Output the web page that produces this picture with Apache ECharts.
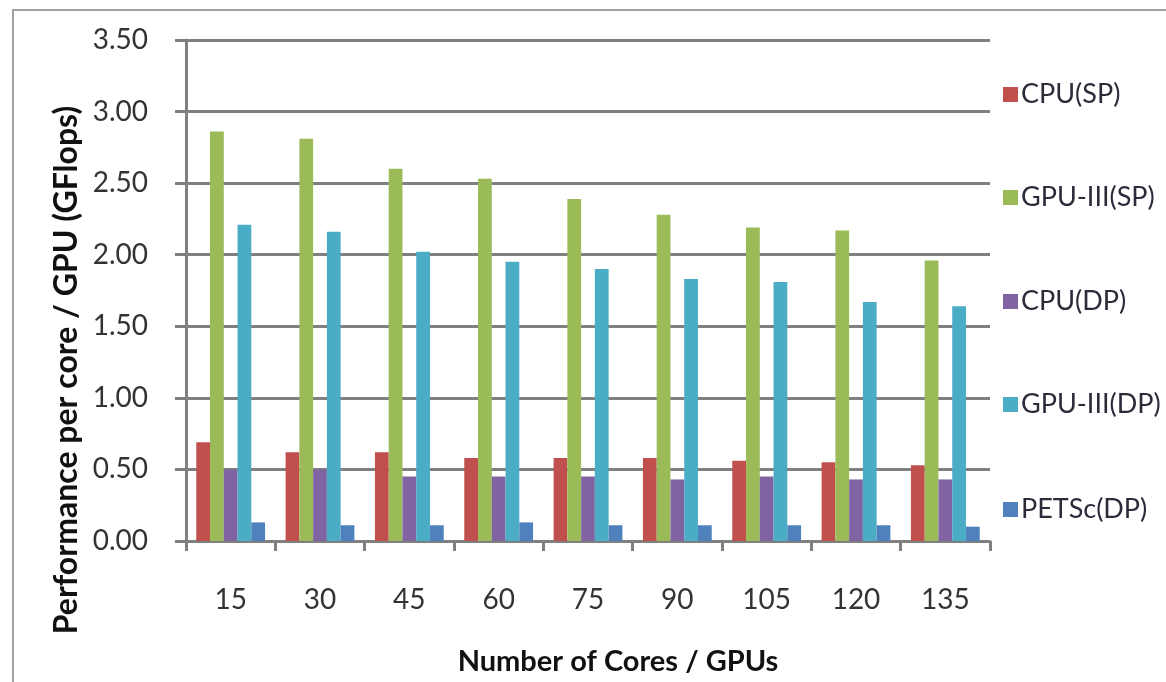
<!DOCTYPE html>
<html>
<head>
<meta charset="utf-8">
<script src="https://cdn.jsdelivr.net/npm/echarts@6/dist/echarts.min.js"></script>
<style>
html,body{margin:0;padding:0;background:#fff;}
#chart{width:1166px;height:682px;}
</style>
</head>
<body>
<div id="chart"></div>
<script>
const categories = ['15','30','45','60','75','90','105','120','135'];
const cpuSP    = [0.69, 0.62, 0.62, 0.58, 0.58, 0.58, 0.56, 0.55, 0.53];
const gpuSP    = [2.86, 2.81, 2.60, 2.53, 2.39, 2.28, 2.19, 2.17, 1.96];
const cpuDP    = [0.50, 0.50, 0.45, 0.45, 0.45, 0.43, 0.45, 0.43, 0.43];
const gpuDP    = [2.21, 2.16, 2.02, 1.95, 1.90, 1.83, 1.81, 1.67, 1.64];
const petscDP  = [0.13, 0.11, 0.11, 0.13, 0.11, 0.11, 0.11, 0.11, 0.10];
const seriesNames = ['CPU(SP)','GPU-III(SP)','CPU(DP)','GPU-III(DP)','PETSc(DP)'];
const seriesData = [cpuSP, gpuSP, cpuDP, gpuDP, petscDP];
const colors = ['#C0504D','#9BBB59','#8064A2','#4BACC6','#4F81BD'];
const xTitle = 'Number of Cores / GPUs';
const yTitle = 'Performance per core / GPU (GFlops)';

const FONT = 'Lato';
const chart = echarts.init(document.getElementById('chart'), null, {renderer:'canvas'});

const legendTops = [76, 179, 283, 386, 491];
const legends = seriesNames.map((n, i) => ({
  data: [n],
  orient: 'vertical',
  left: 998,
  top: legendTops[i],
  itemWidth: 15,
  itemHeight: 15,
  itemGap: 8,
  selectedMode: false,
  textStyle: {fontFamily: FONT, fontSize: 27, color: '#2b2b3a', padding: [0,0,0,-2]},
  icon: 'rect'
}));

chart.setOption({
  animation: false,
  backgroundColor: '#fff',
  color: colors,
  graphic: [{
    type: 'rect',
    shape: {x: 13, y: 10, width: 1300, height: 800},
    style: {fill: 'none', stroke: '#a0a0a0', lineWidth: 2},
    silent: true,
    z: -1
  }, {
    type: 'text',
    x: 67, y: 370,
    rotation: Math.PI / 2,
    style: {
      text: yTitle,
      font: 'bold 32px Lato',
      fill: '#111',
      align: 'center',
      verticalAlign: 'middle',
      textAlign: 'center',
      textVerticalAlign: 'middle'
    },
    silent: true
  }, {
    type: 'text',
    x: 618, y: 662,
    style: {
      text: xTitle,
      font: 'bold 29px Lato',
      fill: '#111',
      align: 'center',
      verticalAlign: 'middle',
      textAlign: 'center',
      textVerticalAlign: 'middle'
    },
    silent: true
  }],
  legend: legends,
  grid: {left: 186, right: 176, top: 40, bottom: 141},
  xAxis: {
    type: 'category',
    data: categories,
    axisLine: {lineStyle: {color: '#808080', width: 3}},
    axisTick: {show: true, length: 10, lineStyle: {color: '#808080', width: 3}},
    axisLabel: {fontFamily: FONT, fontSize: 28, color: '#333', margin: 45}
  },
  yAxis: {
    type: 'value',
    min: 0, max: 3.5, interval: 0.5,
    axisLine: {show: true, lineStyle: {color: '#808080', width: 3}},
    axisTick: {show: true, length: 11, lineStyle: {color: '#808080', width: 3}},
    splitLine: {show: true, lineStyle: {color: '#808080', width: 3}},
    axisLabel: {fontFamily: FONT, fontSize: 28, color: '#333', margin: 38,
      formatter: v => v.toFixed(2)}
  },
  series: seriesNames.map((n, i) => ({
    name: n,
    type: 'bar',
    data: seriesData[i],
    barGap: '0%',
    barCategoryGap: '23%',
    itemStyle: {color: colors[i]}
  }))
});
</script>
</body>
</html>
